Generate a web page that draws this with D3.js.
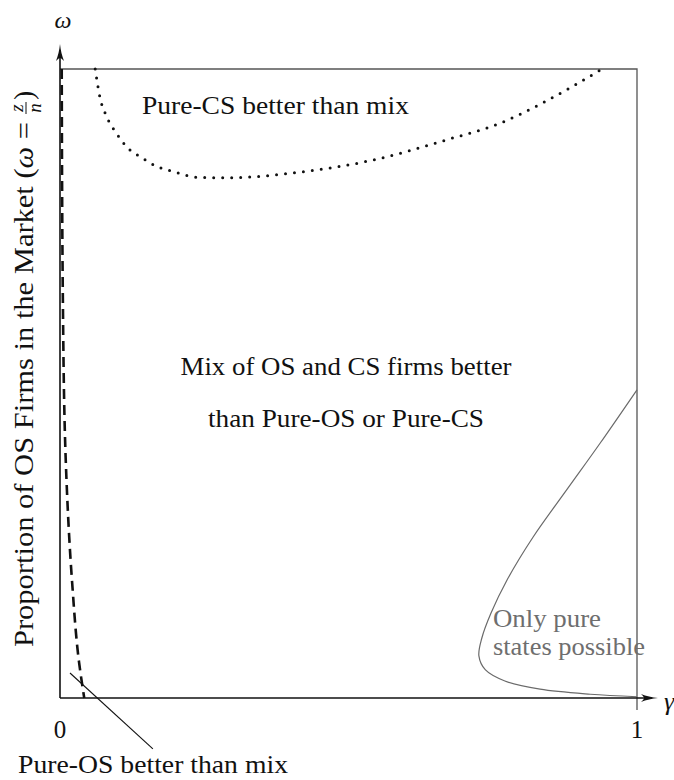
<!DOCTYPE html>
<html><head><meta charset="utf-8">
<script src="https://cdn.jsdelivr.net/npm/d3@7"></script>
<style>body{margin:0;background:#fff}</style>
</head><body>
<svg id="c" width="674" height="780"></svg>
<script>
// Pure-CS boundary (dotted)
const csGamma = [0.061, 0.069, 0.081, 0.097, 0.116, 0.142, 0.168, 0.196, 0.237, 0.291, 0.406, 0.541, 0.676, 0.763, 0.832, 0.884, 0.936];
const csOmega = [1.000, 0.956, 0.924, 0.899, 0.876, 0.859, 0.845, 0.837, 0.828, 0.827, 0.835, 0.855, 0.889, 0.914, 0.944, 0.970, 0.998];
// Pure-OS boundary (dashed)
const osGamma = [0.003, 0.005, 0.010, 0.021, 0.033, 0.042];
const osOmega = [1.000, 0.631, 0.377, 0.184, 0.057, 0.000];
// Only-pure-states region boundary (thin grey)
const pureGamma = [1.000, 0.936, 0.879, 0.820, 0.775, 0.747, 0.731, 0.726, 0.737, 0.771, 0.832, 0.919, 1.000];
const pureOmega = [0.490, 0.405, 0.332, 0.256, 0.188, 0.135, 0.095, 0.067, 0.045, 0.027, 0.014, 0.006, 0.002];
// ticks
const tickValues = [0, 1];
const tickLabels = ["0", "1"];

const svg = d3.select("#c");
const x = d3.scaleLinear([0, 1], [60, 637]);
const y = d3.scaleLinear([0, 1], [698, 69]);
const serif = "'Liberation Serif','Times New Roman',serif";

const zip = (a, b) => a.map((v, i) => [v, b[i]]);
const lineX = d3.line().x(d => x(d[0])).y(d => y(d[1])).curve(d3.curveMonotoneX);
const lineY = d3.line().x(d => x(d[0])).y(d => y(d[1])).curve(d3.curveMonotoneY);
const lineC = d3.line().x(d => x(d[0])).y(d => y(d[1])).curve(d3.curveCatmullRom.alpha(0.5));

// box (top and right)
svg.append("path").attr("d", `M${x(0)},${y(1)}H${x(1)}V${y(0) + 12}`)
  .attr("fill", "none").attr("stroke", "#555").attr("stroke-width", 1.3);

// curves
svg.append("path").attr("d", lineC(zip(pureGamma, pureOmega)))
  .attr("fill", "none").attr("stroke", "#6a6a6a").attr("stroke-width", 1.2);
svg.append("path").attr("d", lineX(zip(csGamma, csOmega)))
  .attr("fill", "none").attr("stroke", "#111").attr("stroke-width", 3)
  .attr("stroke-linecap", "round").attr("stroke-dasharray", "0 9");
svg.append("path").attr("d", lineY(zip(osGamma, osOmega)))
  .attr("fill", "none").attr("stroke", "#111").attr("stroke-width", 2.6)
  .attr("stroke-dasharray", "10 6");

// axes with arrows
const x0 = x(0), yb = y(0);
svg.append("line").attr("x1", x0).attr("y1", yb).attr("x2", x0).attr("y2", 50)
  .attr("stroke", "#111").attr("stroke-width", 1.6);
svg.append("line").attr("x1", x0).attr("y1", yb).attr("x2", 652).attr("y2", yb)
  .attr("stroke", "#111").attr("stroke-width", 1.6);
// up arrowhead
svg.append("path")
  .attr("d", `M${x0},44 C${x0 + 0.6},50 ${x0 + 2},56 ${x0 + 4},61 C${x0 + 2},59 ${x0 + 1},58 ${x0},58 C${x0 - 1},58 ${x0 - 2},59 ${x0 - 4},61 C${x0 - 2},56 ${x0 - 0.6},50 ${x0},44Z`)
  .attr("fill", "#111");
// right arrowhead
svg.append("path")
  .attr("d", `M658,${yb} C652,${yb + 0.6} 646,${yb + 2} 641,${yb + 4} C643,${yb + 2} 644,${yb + 1} 644,${yb} C644,${yb - 1} 643,${yb - 2} 641,${yb - 4} C646,${yb - 2} 652,${yb - 0.6} 658,${yb}Z`)
  .attr("fill", "#111");

// axis symbols
svg.append("text").attr("x", 63).attr("y", 28).attr("text-anchor", "middle")
  .attr("font-family", serif).attr("font-style", "italic").attr("font-size", 24).attr("fill", "#111").text("ω");
svg.append("text").attr("x", 664).attr("y", 710)
  .attr("font-family", serif).attr("font-style", "italic").attr("font-size", 26).attr("fill", "#111").text("γ");

// tick labels
svg.selectAll(".tick").data(tickValues).join("text")
  .attr("x", d => x(d)).attr("y", 738).attr("text-anchor", "middle")
  .attr("font-family", serif).attr("font-size", 25).attr("fill", "#111")
  .text((d, i) => tickLabels[i]);

// region labels
const labels = [
  {t: "Pure-CS better than mix", g: 0.142, w: 0.928, len: 267, anchor: "start", col: "#111"},
  {t: "Mix of OS and CS firms better", g: 0.4957, w: 0.5135, len: 331, anchor: "middle", col: "#111"},
  {t: "than Pure-OS or Pure-CS", g: 0.4957, w: 0.4308, len: 276, anchor: "middle", col: "#111"},
  {t: "Pure-OS better than mix", g: -0.0728, w: -0.119, len: 270, anchor: "start", col: "#111"},
  {t: "Only pure", g: 0.7504, w: 0.1129, len: 108, anchor: "start", col: "#6e6e6e"},
  {t: "states possible", g: 0.7504, w: 0.0684, len: 152, anchor: "start", col: "#6e6e6e"}
];
svg.selectAll(".lab").data(labels).join("text")
  .attr("x", d => x(d.g)).attr("y", d => y(d.w)).attr("text-anchor", d => d.anchor)
  .attr("font-family", serif).attr("font-size", 25).attr("fill", d => d.col)
  .attr("textLength", d => d.len).attr("lengthAdjust", "spacingAndGlyphs")
  .text(d => d.t);

// pointer for Pure-OS label
svg.append("line")
  .attr("x1", x(0.0173)).attr("y1", y(0.0397)).attr("x2", x(0.161)).attr("y2", y(-0.081))
  .attr("stroke", "#111").attr("stroke-width", 1.1);

// y-axis label (rotated)
const yl = svg.append("g").attr("transform", "translate(33,647) rotate(-90)");
const ylt = yl.append("text").attr("x", 0).attr("y", 0)
  .attr("font-family", serif).attr("font-size", 27.5).attr("fill", "#111")
  .attr("textLength", 525).attr("lengthAdjust", "spacingAndGlyphs");
ylt.append("tspan").text("Proportion of OS Firms in the Market (");
ylt.append("tspan").attr("font-style", "italic").text("ω");
ylt.append("tspan").text(" =");
yl.append("text").attr("x", 539).attr("y", -10.5).attr("text-anchor", "middle")
  .attr("font-family", serif).attr("font-style", "italic").attr("font-size", 19).attr("fill", "#111").text("z");
yl.append("line").attr("x1", 533).attr("x2", 545).attr("y1", -7).attr("y2", -7)
  .attr("stroke", "#111").attr("stroke-width", 1);
yl.append("text").attr("x", 539).attr("y", 7.5).attr("text-anchor", "middle")
  .attr("font-family", serif).attr("font-style", "italic").attr("font-size", 19).attr("fill", "#111").text("n");
yl.append("text").attr("x", 547).attr("y", 0)
  .attr("font-family", serif).attr("font-size", 27.5).attr("fill", "#111").text(")");
</script>
</body></html>
